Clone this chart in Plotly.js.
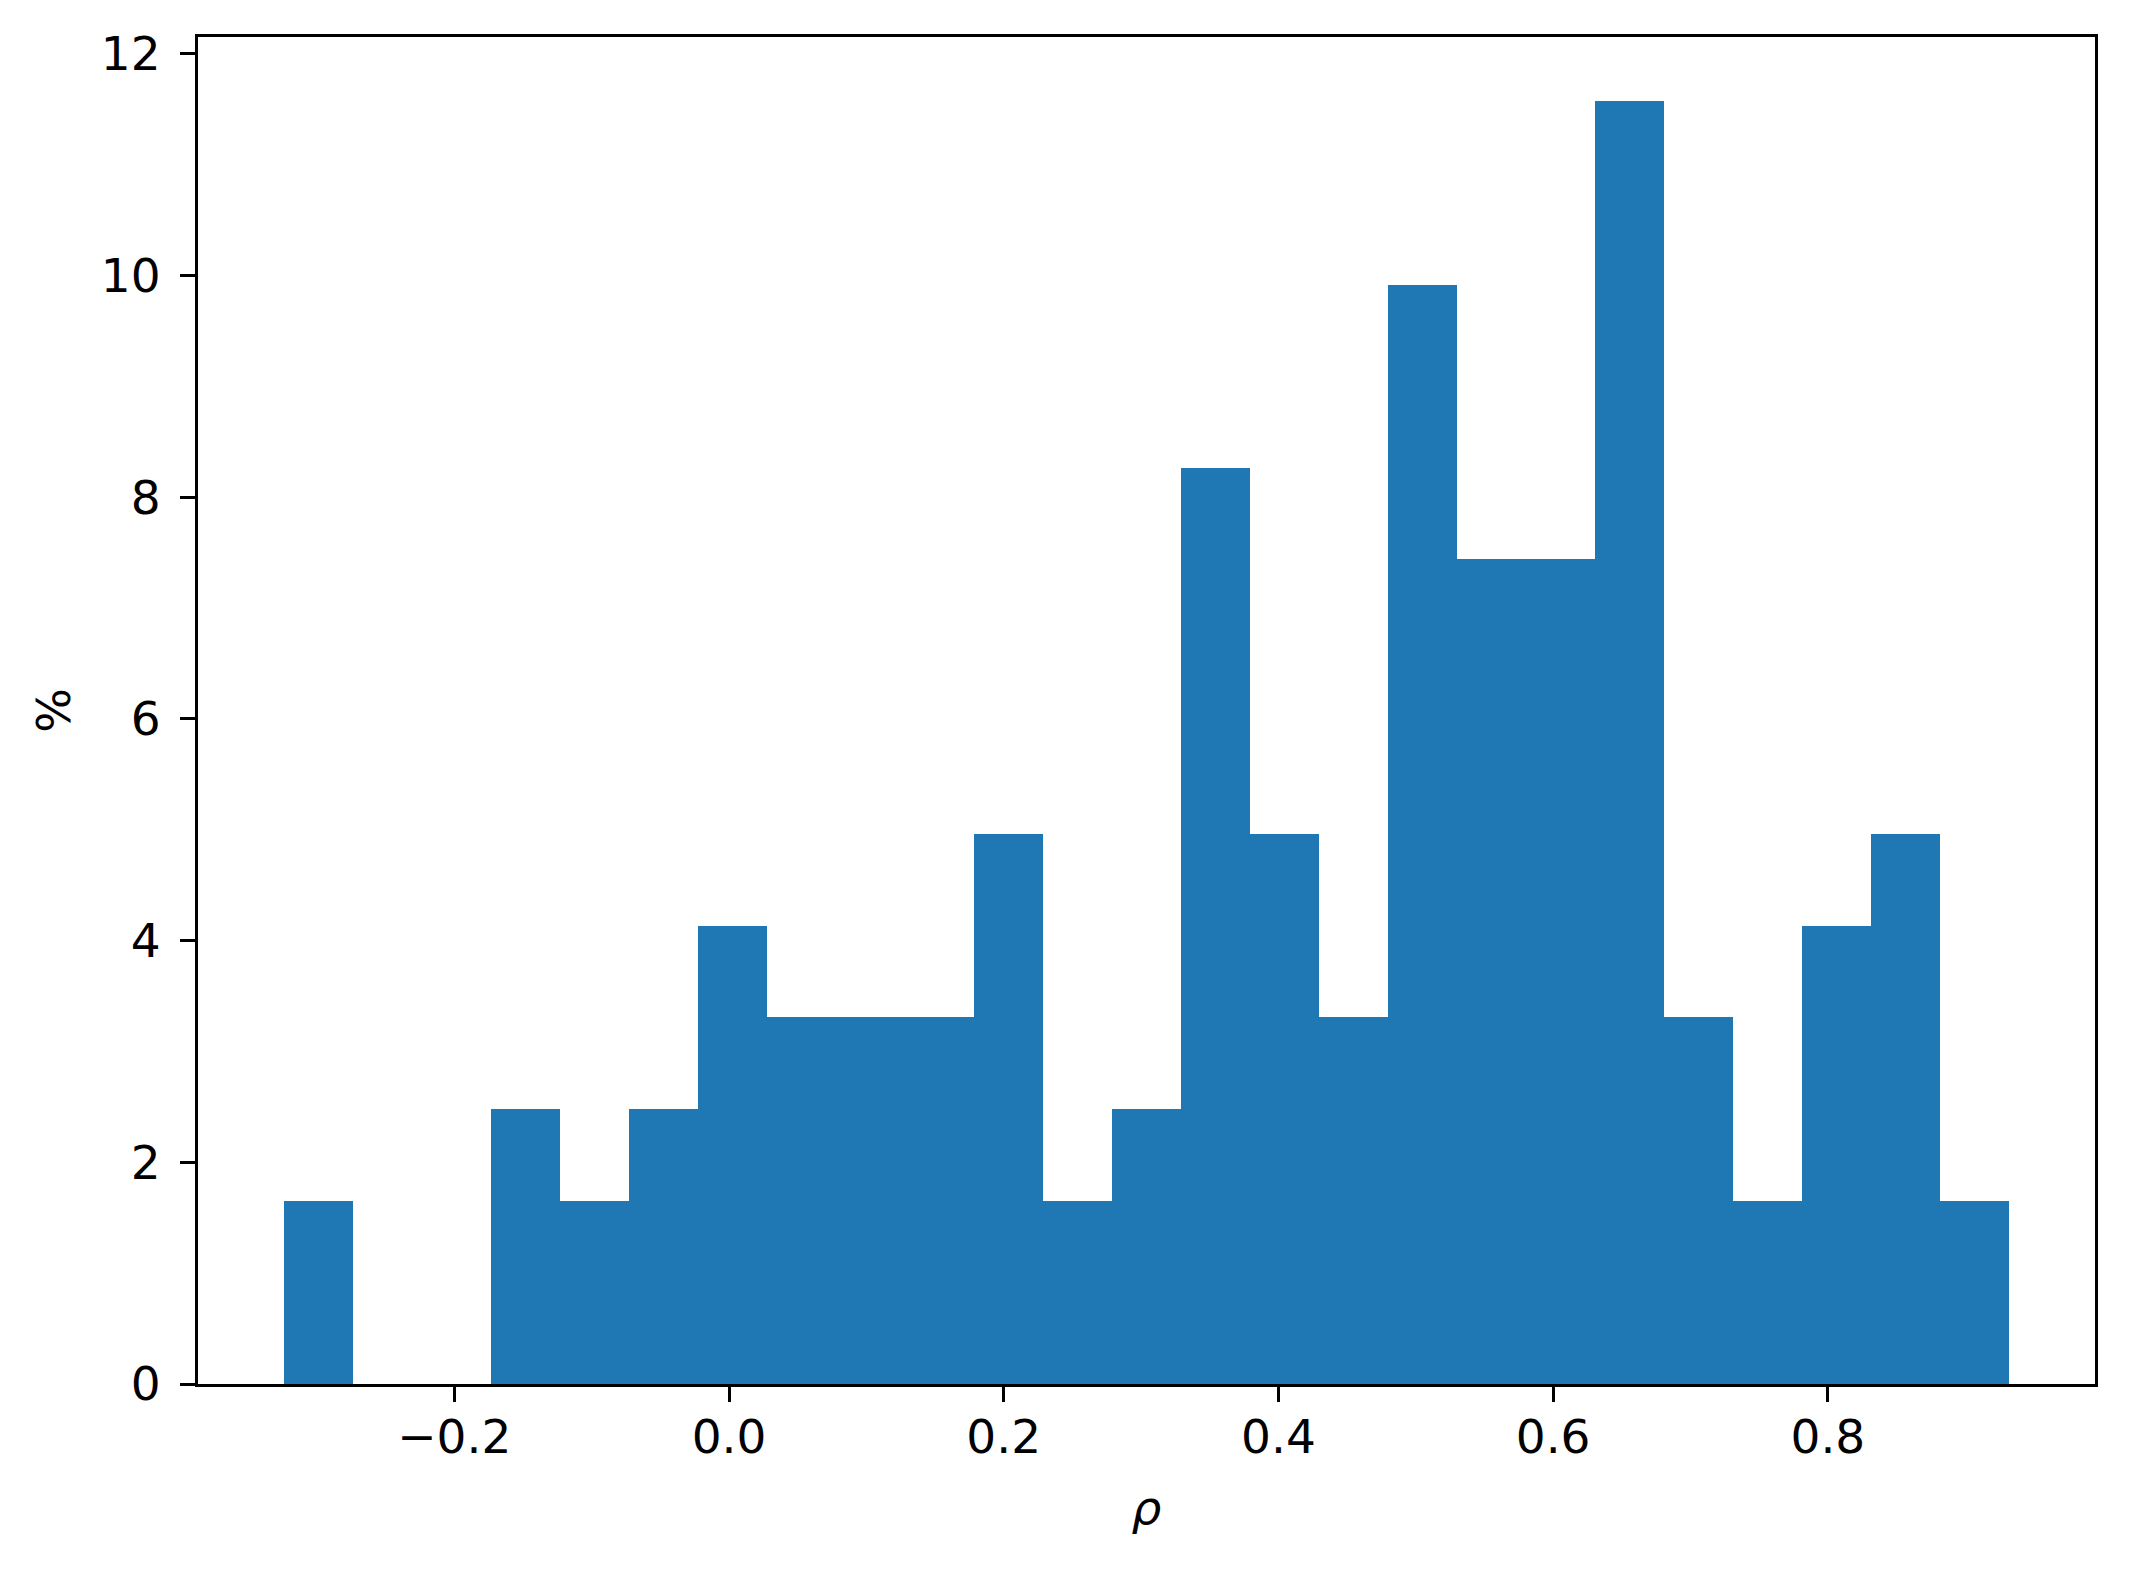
<!DOCTYPE html>
<html>
<head>
<meta charset="utf-8">
<script src="https://cdn.plot.ly/plotly-3.0.1.min.js"></script>
<style>html,body{margin:0;padding:0;background:#fff;}#chart{width:2132px;height:1569px;}</style>
</head>
<body>
<div id="chart"></div>
<script>
// Histogram of rho, shown as percent of observations per bin
const binLeftEdges = [-0.3238, -0.2736, -0.2234, -0.1731, -0.1229, -0.0727, -0.0225, 0.0277, 0.0780, 0.1282,
                      0.1784, 0.2286, 0.2788, 0.3291, 0.3793, 0.4295, 0.4797, 0.5299, 0.5802, 0.6304,
                      0.6806, 0.7308, 0.7810, 0.8313, 0.8815];
const binWidth = 0.05022;
const percentValues = [1.653, 0, 0, 2.479, 1.653, 2.479, 4.132, 3.306, 3.306, 3.306,
                       4.959, 1.653, 2.479, 8.264, 4.959, 3.306, 9.917, 7.438, 7.438, 11.570,
                       3.306, 1.653, 4.132, 4.959, 1.653];
const xTickValues = [-0.2, 0.0, 0.2, 0.4, 0.6, 0.8];
const xTickLabels = ["\u22120.2", "0.0", "0.2", "0.4", "0.6", "0.8"];
const yTickValues = [0, 2, 4, 6, 8, 10, 12];
const yTickLabels = ["0", "2", "4", "6", "8", "10", "12"];

const centers = binLeftEdges.map(e => e + binWidth / 2);

const trace = {
  type: 'bar',
  x: centers,
  y: percentValues,
  width: binLeftEdges.map(() => binWidth),
  marker: {color: '#1f77b4', line: {width: 0}},
  hoverinfo: 'x+y'
};

const font = {family: 'DejaVu Sans, sans-serif', size: 47, color: '#000'};

const layout = {
  width: 2132,
  height: 1569,
  paper_bgcolor: '#fff',
  plot_bgcolor: '#fff',
  showlegend: false,
  bargap: 0,
  font: font,
  margin: {l: 198, r: 37, t: 37, b: 185, pad: 0},
  xaxis: {
    range: [-0.3866, 0.9945],
    tickvals: xTickValues,
    ticktext: xTickLabels,
    ticks: 'outside',
    ticklen: 15,
    tickwidth: 3,
    tickcolor: '#000',
    showline: true,
    linecolor: '#000',
    linewidth: 3,
    mirror: true,
    showgrid: false,
    zeroline: false,
    tickfont: font,
    ticklabelstandoff: -5,
    title: {text: '<i>ρ</i>', font: font, standoff: 28}
  },
  yaxis: {
    range: [0, 12.15],
    tickvals: yTickValues,
    ticktext: yTickLabels,
    ticks: 'outside',
    ticklen: 15,
    tickwidth: 3,
    tickcolor: '#000',
    showline: true,
    linecolor: '#000',
    linewidth: 3,
    mirror: true,
    showgrid: false,
    zeroline: false,
    tickfont: font,
    ticklabelstandoff: 10,
    title: {text: '%', font: font, standoff: 16}
  }
};

Plotly.newPlot('chart', [trace], layout, {displayModeBar: false, staticPlot: true});
</script>
</body>
</html>
